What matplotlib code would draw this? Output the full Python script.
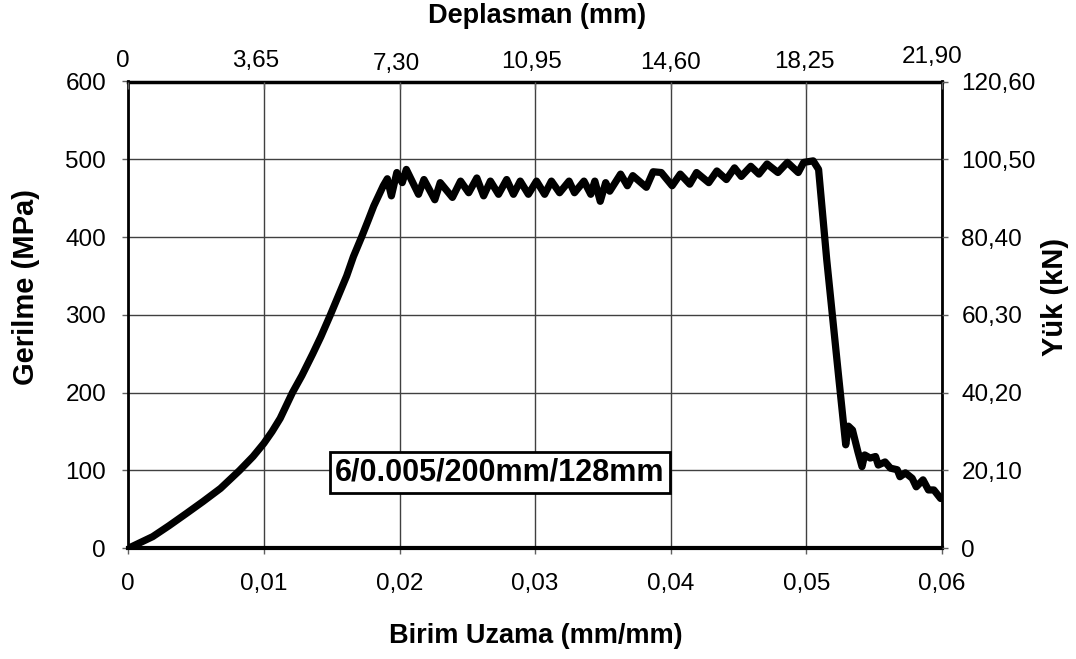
import matplotlib
matplotlib.use("Agg")
import matplotlib.pyplot as plt
from matplotlib.transforms import offset_copy

plt.rcParams['font.family'] = ['Liberation Sans', 'DejaVu Sans']

# ---- data ----
strain = [0, 0.0018, 0.0030, 0.0043, 0.0055, 0.0068, 0.0082, 0.0092, 0.0100, 0.0106,
          0.0112, 0.0121, 0.0128, 0.0136, 0.0142, 0.0149, 0.0155, 0.0161, 0.0166, 0.0172,
          0.0177, 0.0181, 0.0188, 0.0191, 0.0194, 0.0198, 0.0202, 0.0205, 0.0214,
          0.0218, 0.0226, 0.0230, 0.0239, 0.0245, 0.0251, 0.0257, 0.0262, 0.0267, 0.0273,
          0.0279, 0.0284, 0.0289, 0.0295, 0.0301, 0.0307, 0.0312, 0.0318, 0.0325, 0.0329,
          0.0336, 0.0341, 0.0344, 0.0348, 0.0352, 0.0355, 0.0363, 0.0368, 0.0372, 0.0382,
          0.0387, 0.0393, 0.0401, 0.0407, 0.0414, 0.0419, 0.0428, 0.0434, 0.0441, 0.0447,
          0.0452, 0.0459, 0.0465, 0.0471, 0.0479, 0.0486, 0.0494, 0.0498, 0.0505, 0.0509,
          0.0515, 0.0524, 0.0529, 0.0531, 0.0534, 0.0538, 0.0541, 0.0543, 0.0547, 0.0551,
          0.0553, 0.0558, 0.0562, 0.0567, 0.0569, 0.0573, 0.0578, 0.0581, 0.0586, 0.0590,
          0.0594, 0.0599]
stress = [0, 15, 29, 45, 60, 77, 100, 118, 135, 150,
          167, 200, 222, 250, 272, 300, 325, 350, 375, 400,
          422, 440, 466, 475, 453, 483, 470, 487, 455,
          474, 448, 470, 451, 472, 457, 476, 453, 472, 455,
          474, 455, 472, 455, 472, 455, 472, 457, 472, 457,
          472, 455, 472, 446, 470, 459, 481, 466, 479, 464,
          484, 483, 466, 481, 468, 483, 470, 485, 474, 489,
          478, 491, 481, 494, 483, 496, 483, 496, 498, 487,
          371, 217, 133, 157, 152, 124, 105, 120, 116, 118,
          107, 111, 103, 101, 92, 97, 90, 79, 88, 75,
          75, 64]

x_ticks = [0, 0.01, 0.02, 0.03, 0.04, 0.05, 0.06]
x_ticklabels = ['0', '0,01', '0,02', '0,03', '0,04', '0,05', '0,06']
y_ticks = [0, 100, 200, 300, 400, 500, 600]
y_ticklabels = ['0', '100', '200', '300', '400', '500', '600']
right_ticks = [0, 20.1, 40.2, 60.3, 80.4, 100.5, 120.6]
right_ticklabels = ['0', '20,10', '40,20', '60,30', '80,40', '100,50', '120,60']
top_ticks = [0, 3.65, 7.30, 10.95, 14.60, 18.25, 21.90]
top_ticklabels = ['0', '3,65', '7,30', '10,95', '14,60', '18,25', '21,90']
# layout of the staggered top labels (pixel shifts / baselines)
top_label_dx_px = [-5, -8, -3, -4, 0, -2, -10]
top_label_base_px = [66.7, 66.7, 70.0, 68.3, 69.3, 68.3, 63.3]

annotation = '6/0.005/200mm/128mm'

# ---- figure ----
W, H = 1076, 659
fig = plt.figure(figsize=(W / 100, H / 100), dpi=100)
ax_l, ax_r, ax_t, ax_b = 128.3, 942.0, 81.5, 548.3
ax = fig.add_axes([ax_l / W, 1 - ax_b / H, (ax_r - ax_l) / W, (ax_b - ax_t) / H])

ax.plot(strain, stress, color='black', lw=5.2, solid_joinstyle='round',
        solid_capstyle='round', zorder=3)
ax.set_xlim(0, 0.06)
ax.set_ylim(0, 600)
ax.set_xticks(x_ticks)
ax.set_xticklabels(x_ticklabels)
ax.set_yticks(y_ticks)
ax.set_yticklabels(y_ticklabels)
ax.grid(True, color='#404040', lw=1.0, zorder=1)
ax.set_axisbelow(True)
ax.tick_params(axis='both', direction='out', length=4, width=1, color='#606060',
               labelsize=17.5)
ax.tick_params(axis='x', pad=14)
ax.tick_params(axis='y', pad=12)

for side, lw in [('left', 2), ('bottom', 3), ('top', 2.5), ('right', 2)]:
    ax.spines[side].set_linewidth(lw)
    ax.spines[side].set_color('black')

# right axis (load)
ax2 = ax.twinx()
ax2.set_ylim(0, 120.6)
ax2.set_yticks(right_ticks)
ax2.set_yticklabels(right_ticklabels)
ax2.tick_params(axis='y', direction='out', length=4, width=1, color='#606060',
                labelsize=17.5, pad=10)
for s in ax2.spines.values():
    s.set_visible(False)

# top axis (displacement)
ax3 = ax.twiny()
ax3.set_xlim(0, 21.9)
ax3.set_xticks(top_ticks)
ax3.tick_params(axis='x', direction='in', length=5, width=1, color='#606060',
                labeltop=False)
for s in ax3.spines.values():
    s.set_visible(False)
base_trans = ax3.get_xaxis_transform()
for v, lab, dx, yb in zip(top_ticks, top_ticklabels, top_label_dx_px, top_label_base_px):
    ya = 1 + (ax_t - yb) / (ax_b - ax_t)
    tr = offset_copy(base_trans, fig=fig, x=dx, y=0, units='dots')
    ax3.text(v, ya, lab, transform=tr, ha='center', va='baseline', fontsize=17.5,
             clip_on=False)

# annotation box
ax.text(0.02741, 97.6, annotation, ha='center', va='center', fontsize=22,
        fontweight='bold', zorder=5,
        bbox=dict(boxstyle='square,pad=0.18', facecolor='white', edgecolor='black', lw=2))

# axis titles
fig.text(537 / W, 1 - 23.3 / H, 'Deplasman (mm)', ha='center', va='baseline',
         fontsize=19.5, fontweight='bold')
fig.text(536 / W, 1 - 643.3 / H, 'Birim Uzama (mm/mm)', ha='center', va='baseline',
         fontsize=19.5, fontweight='bold')
fig.text(26 / W, 1 - 287 / H, 'Gerilme (MPa)', ha='center', va='center',
         fontsize=21, fontweight='bold', rotation=90)
fig.text(1055 / W, 1 - 297 / H, 'Yük (kN)', ha='center', va='center',
         fontsize=21, fontweight='bold', rotation=90)

fig.savefig('out.png', dpi=100)
